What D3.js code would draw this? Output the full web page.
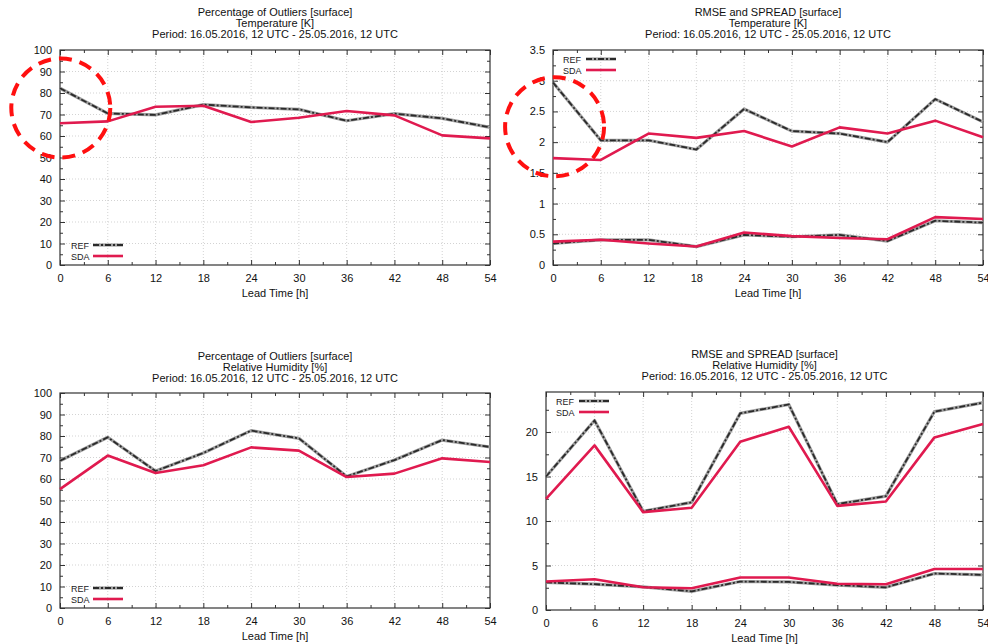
<!DOCTYPE html>
<html>
<head>
<meta charset="utf-8">
<script src="https://cdn.jsdelivr.net/npm/d3@7"></script>
<style>
  html, body { margin: 0; padding: 0; background: #fff; }
  svg { display: block; font-family: "Liberation Sans", Arial, sans-serif; }
</style>
</head>
<body>
<svg id="chart" width="988" height="644"></svg>
<script>
// ---- data ----
const leadTimes = [0, 6, 12, 18, 24, 30, 36, 42, 48, 54];
const seriesNames = ["REF", "SDA"];
const periodLine = "Period: 16.05.2016, 12 UTC - 25.05.2016, 12 UTC";
const xLabel = "Lead Time [h]";

// Panel 1: Percentage of Outliers, Temperature
const outT_REF = [82.2, 70.5, 69.8, 74.6, 73.3, 72.4, 67.1, 70.4, 68.2, 64.0];
const outT_SDA = [65.9, 66.8, 73.6, 74.1, 66.5, 68.5, 71.6, 69.6, 60.3, 58.9];

// Panel 2: RMSE and SPREAD, Temperature
const rmseT_REF = [2.97, 2.03, 2.03, 1.88, 2.54, 2.18, 2.14, 2.00, 2.70, 2.33];
const rmseT_SDA = [1.74, 1.71, 2.14, 2.07, 2.18, 1.93, 2.24, 2.14, 2.35, 2.08];
const sprdT_REF = [0.35, 0.41, 0.41, 0.30, 0.49, 0.46, 0.49, 0.39, 0.72, 0.69];
const sprdT_SDA = [0.38, 0.41, 0.35, 0.30, 0.53, 0.47, 0.44, 0.42, 0.78, 0.75];

// Panel 3: Percentage of Outliers, Relative Humidity
const outRH_REF = [68.5, 79.4, 63.7, 72.1, 82.5, 78.9, 61.2, 68.8, 78.1, 74.9];
const outRH_SDA = [55.3, 70.9, 62.8, 66.4, 74.7, 73.2, 60.9, 62.5, 69.6, 67.9];

// Panel 4: RMSE and SPREAD, Relative Humidity
const rmseRH_REF = [15.0, 21.3, 11.1, 12.1, 22.1, 23.1, 11.9, 12.8, 22.3, 23.3];
const rmseRH_SDA = [12.5, 18.5, 11.0, 11.5, 18.9, 20.6, 11.7, 12.2, 19.4, 20.9];
const sprdRH_REF = [3.1, 2.9, 2.6, 2.1, 3.2, 3.15, 2.8, 2.55, 4.1, 3.95];
const sprdRH_SDA = [3.2, 3.45, 2.55, 2.45, 3.65, 3.65, 2.95, 2.9, 4.6, 4.6];

// tick values
const xTicks = [0, 6, 12, 18, 24, 30, 36, 42, 48, 54];
const yTicksPct = [0, 10, 20, 30, 40, 50, 60, 70, 80, 90, 100];
const yTicksRmseT = [0, 0.5, 1, 1.5, 2, 2.5, 3, 3.5];
const yTicksRmseRH = [0, 5, 10, 15, 20];

// ---- styles ----
const SDA_COLOR = "#e01a4f";
const REF_DARK = "#2a2a2a";
const REF_LIGHT = "#a0a0a0";
const MARK_RED = "#ff1010";
const FONT_SIZE = "11px";

const svg = d3.select("#chart");

function drawPanel(cfg) {
  const g = svg.append("g");
  const x = d3.scaleLinear().domain([0, 54]).range([cfg.x0, cfg.x1]);
  const y = d3.scaleLinear().domain(cfg.yDomain).range([cfg.y1, cfg.y0]);

  // grid
  g.append("g").selectAll("line").data(cfg.xTicks.filter(d => d > 0 && d < 54)).join("line")
    .attr("x1", d => x(d)).attr("x2", d => x(d)).attr("y1", cfg.y0).attr("y2", cfg.y1)
    .attr("stroke", "#c8c8c8").attr("stroke-width", 0.8).attr("stroke-dasharray", "1,2");
  g.append("g").selectAll("line").data(cfg.yTicks.filter(d => d > cfg.yDomain[0] && d < cfg.yDomain[1])).join("line")
    .attr("x1", cfg.x0).attr("x2", cfg.x1).attr("y1", d => y(d)).attr("y2", d => y(d))
    .attr("stroke", "#c8c8c8").attr("stroke-width", 0.8).attr("stroke-dasharray", "1,2");

  // axes with inward ticks
  const tickLen = 5, minorLen = 3;
  const axB = d3.axisBottom(x).tickValues(cfg.xTicks).tickSize(-tickLen).tickPadding(9).tickFormat(d3.format("d"));
  const axT = d3.axisTop(x).tickValues(cfg.xTicks).tickSize(-tickLen).tickFormat("");
  const axL = d3.axisLeft(y).tickValues(cfg.yTicks).tickSize(-tickLen).tickPadding(8).tickFormat(cfg.yFormat);
  const axR = d3.axisRight(y).tickValues(cfg.yTicks).tickSize(-tickLen).tickFormat("");

  const xMinor = d3.range(3, 54, 6);
  const yMinor = cfg.yMinor;
  const axBm = d3.axisBottom(x).tickValues(xMinor).tickSize(-minorLen).tickFormat("");
  const axTm = d3.axisTop(x).tickValues(xMinor).tickSize(-minorLen).tickFormat("");
  const axLm = d3.axisLeft(y).tickValues(yMinor).tickSize(-minorLen).tickFormat("");
  const axRm = d3.axisRight(y).tickValues(yMinor).tickSize(-minorLen).tickFormat("");

  const style = sel => {
    sel.select(".domain").remove();
    sel.selectAll("line").attr("stroke", "#333").attr("stroke-width", 1);
    sel.selectAll("text").attr("fill", "#111").style("font-size", FONT_SIZE)
      .style("font-family", '"Liberation Sans", Arial, sans-serif');
  };
  g.append("g").attr("transform", `translate(0,${cfg.y1})`).call(axB).call(style);
  g.append("g").attr("transform", `translate(0,${cfg.y0})`).call(axT).call(style);
  g.append("g").attr("transform", `translate(${cfg.x0},0)`).call(axL).call(style);
  g.append("g").attr("transform", `translate(${cfg.x1},0)`).call(axR).call(style);
  g.append("g").attr("transform", `translate(0,${cfg.y1})`).call(axBm).call(style);
  g.append("g").attr("transform", `translate(0,${cfg.y0})`).call(axTm).call(style);
  g.append("g").attr("transform", `translate(${cfg.x0},0)`).call(axLm).call(style);
  g.append("g").attr("transform", `translate(${cfg.x1},0)`).call(axRm).call(style);

  // frame
  g.append("rect").attr("x", cfg.x0).attr("y", cfg.y0)
    .attr("width", cfg.x1 - cfg.x0).attr("height", cfg.y1 - cfg.y0)
    .attr("fill", "none").attr("stroke", "#333").attr("stroke-width", 1.2);

  // lines
  const line = d3.line().x((d, i) => x(leadTimes[i])).y(d => y(d));
  const drawRef = (vals) => {
    g.append("path").attr("d", line(vals)).attr("fill", "none")
      .attr("stroke", REF_LIGHT).attr("stroke-width", 3.2).attr("stroke-linejoin", "round");
    g.append("path").attr("d", line(vals)).attr("fill", "none")
      .attr("stroke", REF_DARK).attr("stroke-width", 1.8).attr("stroke-dasharray", "6,2,2,2");
  };
  const drawSda = (vals) => {
    g.append("path").attr("d", line(vals)).attr("fill", "none")
      .attr("stroke", SDA_COLOR).attr("stroke-width", 2.6).attr("stroke-linejoin", "round");
  };
  cfg.series.forEach(s => { drawRef(s.ref); drawSda(s.sda); });

  // titles
  const cx = (cfg.x0 + cfg.x1) / 2;
  cfg.title.forEach((t, i) => {
    g.append("text").attr("x", cx).attr("y", cfg.titleY + i * 11)
      .attr("text-anchor", "middle").style("font-size", FONT_SIZE).attr("fill", "#111").text(t);
  });
  g.append("text").attr("x", cx).attr("y", cfg.xLabelY)
    .attr("text-anchor", "middle").style("font-size", FONT_SIZE).attr("fill", "#111").text(xLabel);

  // legend
  const L = cfg.legend;
  seriesNames.forEach((nm, i) => {
    const ly = L.y + i * 11;
    g.append("text").attr("x", L.x).attr("y", ly + 3.5).style("font-size", "9px").attr("fill", "#222").text(nm);
    if (nm === "REF") {
      g.append("line").attr("x1", L.lx0).attr("x2", L.lx1).attr("y1", ly).attr("y2", ly)
        .attr("stroke", REF_LIGHT).attr("stroke-width", 3.2);
      g.append("line").attr("x1", L.lx0).attr("x2", L.lx1).attr("y1", ly).attr("y2", ly)
        .attr("stroke", REF_DARK).attr("stroke-width", 1.8).attr("stroke-dasharray", "6,2,2,2");
    } else {
      g.append("line").attr("x1", L.lx0).attr("x2", L.lx1).attr("y1", ly).attr("y2", ly)
        .attr("stroke", SDA_COLOR).attr("stroke-width", 2.6);
    }
  });

  // annotation circle
  if (cfg.mark) {
    svg.append("ellipse").attr("cx", x(cfg.mark.t)).attr("cy", y(cfg.mark.v))
      .attr("rx", cfg.mark.r).attr("ry", cfg.mark.r)
      .attr("fill", "none").attr("stroke", MARK_RED).attr("stroke-width", 4)
      .attr("stroke-dasharray", "13,8");
  }
}

drawPanel({
  x0: 60, x1: 490, y0: 50, y1: 265, yDomain: [0, 100],
  xTicks, yTicks: yTicksPct, yMinor: d3.range(5, 100, 10), yFormat: d3.format("d"),
  series: [{ ref: outT_REF, sda: outT_SDA }],
  title: ["Percentage of Outliers [surface]", "Temperature [K]", periodLine],
  titleY: 16, xLabelY: 297,
  legend: { x: 71, y: 245, lx0: 93, lx1: 123 },
  mark: { t: 0.1, v: 73, r: 49.5 }
});

drawPanel({
  x0: 553, x1: 983, y0: 50, y1: 265, yDomain: [0, 3.5],
  xTicks, yTicks: yTicksRmseT, yMinor: d3.range(0.25, 3.5, 0.5), yFormat: d3.format("~g"),
  series: [{ ref: rmseT_REF, sda: rmseT_SDA }, { ref: sprdT_REF, sda: sprdT_SDA }],
  title: ["RMSE and SPREAD [surface]", "Temperature [K]", periodLine],
  titleY: 16, xLabelY: 297,
  legend: { x: 563, y: 59, lx0: 586, lx1: 616 },
  mark: { t: 0.2, v: 2.25, r: 49.5 }
});

drawPanel({
  x0: 60, x1: 490, y0: 393, y1: 608, yDomain: [0, 100],
  xTicks, yTicks: yTicksPct, yMinor: d3.range(5, 100, 10), yFormat: d3.format("d"),
  series: [{ ref: outRH_REF, sda: outRH_SDA }],
  title: ["Percentage of Outliers [surface]", "Relative Humidity [%]", periodLine],
  titleY: 360, xLabelY: 640,
  legend: { x: 71, y: 588, lx0: 93, lx1: 123 }
});

drawPanel({
  x0: 546, x1: 983, y0: 392, y1: 610, yDomain: [0, 24.5],
  xTicks, yTicks: yTicksRmseRH, yMinor: [2.5, 7.5, 12.5, 17.5, 22.5], yFormat: d3.format("d"),
  series: [{ ref: rmseRH_REF, sda: rmseRH_SDA }, { ref: sprdRH_REF, sda: sprdRH_SDA }],
  title: ["RMSE and SPREAD [surface]", "Relative Humidity [%]", periodLine],
  titleY: 358, xLabelY: 642,
  legend: { x: 556, y: 401, lx0: 579, lx1: 609 }
});
</script>
</body>
</html>
